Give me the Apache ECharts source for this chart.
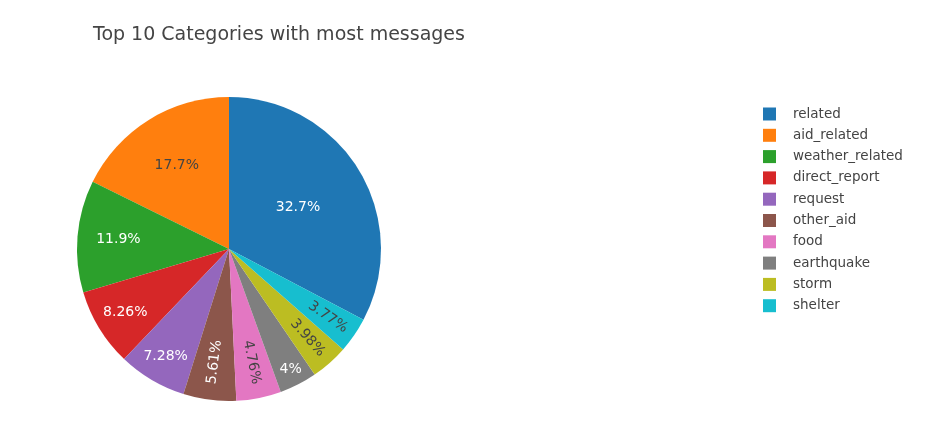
<!DOCTYPE html>
<html>
<head>
<meta charset="utf-8">
<script src="https://cdn.jsdelivr.net/npm/echarts@6/dist/echarts.min.js"></script>
<style>
  html, body { margin: 0; padding: 0; background: #fff; }
  #main { width: 925px; height: 435px; }
</style>
</head>
<body>
<div id="main"></div>
<script>
// data (percent of messages)
const categories = ['related', 'aid_related', 'weather_related', 'direct_report', 'request',
  'other_aid', 'food', 'earthquake', 'storm', 'shelter'];
const shares = [32.7, 17.7, 11.9, 8.26, 7.28, 5.61, 4.76, 4, 3.98, 3.77];
const labels = ['32.7%', '17.7%', '11.9%', '8.26%', '7.28%', '5.61%', '4.76%', '4%', '3.98%', '3.77%'];

// plotly default colors
const colors = ['#1f77b4', '#ff7f0e', '#2ca02c', '#d62728', '#9467bd',
  '#8c564b', '#e377c2', '#7f7f7f', '#bcbd22', '#17becf'];
// style: text colour, rotation and label distance (fraction of radius) per slice
const darkText = [false, true, false, false, false, false, true, false, true, true];
const radialText = [false, false, false, false, false, true, true, false, true, true];
const labelDist = [0.53, 0.65, 0.73, 0.80, 0.82, 0.75, 0.76, 0.89, 0.78, 0.79];

const cx = 229, cy = 249, R = 152;
const total = shares.reduce((a, b) => a + b, 0);
// first slice ends at 12 o'clock, drawn counterclockwise
const startAngle = 90 - 360 * shares[0] / total;

const chart = echarts.init(document.getElementById('main'));

const pieData = categories.map((name, i) => ({
  name: name,
  value: shares[i],
  itemStyle: { color: colors[i] },
  label: {
    color: darkText[i] ? '#444' : '#fff',
    rotate: radialText[i] ? 'radial' : 0
  }
}));

const midAngle = (idx) => {
  let cum = 0;
  for (let i = 0; i < idx; i++) cum += shares[i];
  return (startAngle + 360 * (cum + shares[idx] / 2) / total) * Math.PI / 180;
};

chart.setOption({
  animation: false,
  title: {
    text: 'Top 10 Categories with most messages',
    left: 88,
    top: 21,
    textStyle: { fontFamily: 'DejaVu Sans', fontSize: 19, fontWeight: 'normal', color: '#444' }
  },
  legend: {
    orient: 'vertical',
    left: 758,
    top: 102,
    data: categories,
    icon: 'rect',
    itemWidth: 13,
    itemHeight: 13,
    itemGap: 7.3,
    textStyle: { fontFamily: 'DejaVu Sans', fontSize: 13.5, color: '#444', lineHeight: 13, padding: [0, 0, 0, 12] }
  },
  series: [{
    type: 'pie',
    center: [cx, cy],
    radius: [0, R],
    startAngle: startAngle,
    clockwise: false,
    avoidLabelOverlap: false,
    itemStyle: { borderWidth: 0 },
    label: {
      show: true,
      position: 'inside',
      fontFamily: 'DejaVu Sans',
      fontSize: 14,
      formatter: (p) => labels[p.dataIndex]
    },
    labelLine: { show: false },
    labelLayout: (p) => {
      const a = midAngle(p.dataIndex);
      const r = R * labelDist[p.dataIndex];
      return { x: cx + r * Math.cos(a), y: cy - r * Math.sin(a) };
    },
    emphasis: { disabled: true },
    data: pieData
  }]
});
</script>
</body>
</html>
